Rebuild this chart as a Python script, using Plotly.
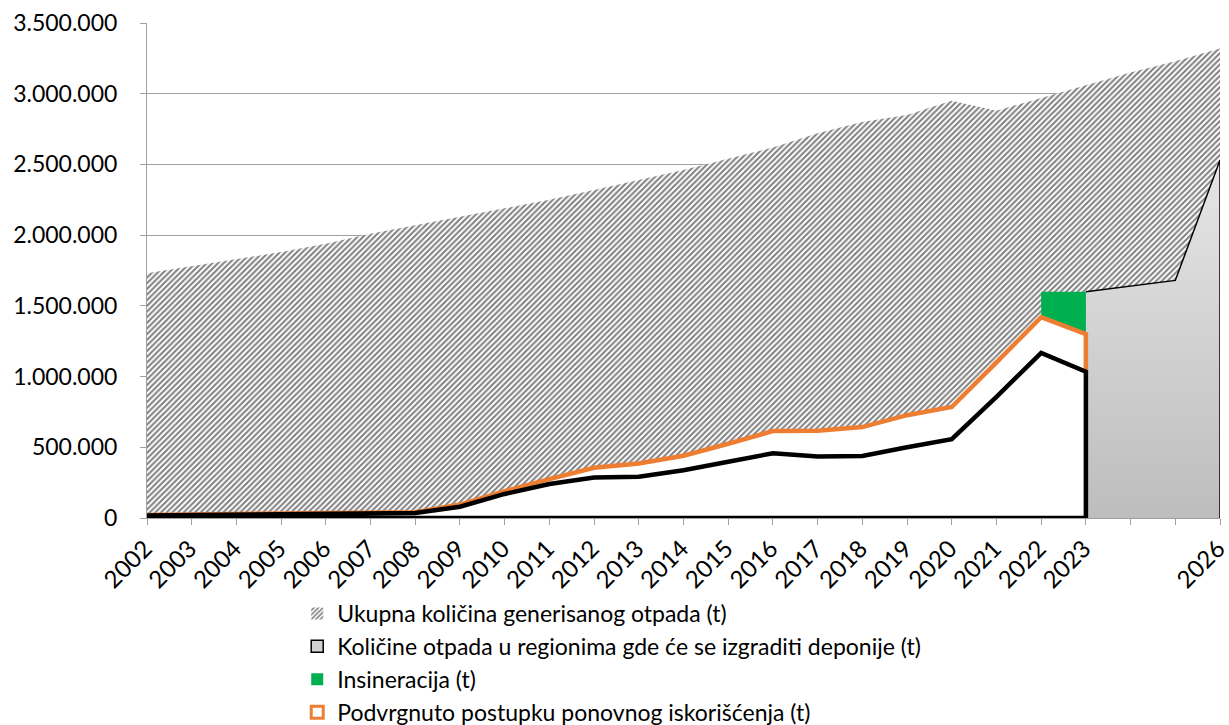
import plotly.graph_objects as go

# ---------------- data ----------------
years = list(range(2002, 2027))
ukupna = [1730000, 1780000, 1830000, 1880000, 1940000, 2010000, 2070000, 2130000,
          2190000, 2250000, 2320000, 2390000, 2460000, 2540000, 2620000, 2720000,
          2800000, 2850000, 2950000, 2880000, 2970000, 3060000, 3150000, 3230000,
          3320000]

region_years = [2023, 2024, 2025, 2026]
region_vals = [1600000, 1640000, 1680000, 2530000]

insin_years = [2022, 2023]
insin_vals = [1600000, 1600000]

hist_years = list(range(2002, 2024))
ponovno = [22000, 24000, 26000, 28000, 30000, 35000, 40000, 95000, 190000, 275000,
           355000, 385000, 440000, 525000, 615000, 617000, 643000, 727000, 785000,
           1100000, 1420000, 1300000]
serija5 = [18000, 20000, 22000, 24000, 26000, 32000, 36000, 80000, 170000, 240000,
           286000, 292000, 338000, 398000, 458000, 435000, 438000, 500000, 557000,
           856000, 1168000, 1035000]

x_tick_labels = [str(y) if y not in (2024, 2025) else "" for y in years]
y_ticks = [0, 500000, 1000000, 1500000, 2000000, 2500000, 3000000, 3500000]

names = ["Ukupna količina generisanog otpada (t)",
         "Količine otpada u regionima gde će se izgraditi deponije (t)",
         "Insineracija (t)",
         "Podvrgnuto postupku ponovnog iskorišćenja (t)"]

FONT = "Lato"
fig = go.Figure()

# total generated waste (hatched)
fig.add_trace(go.Scatter(
    x=years, y=ukupna, mode="lines", line=dict(width=0, color="rgba(0,0,0,0)"),
    fill="tozeroy", fillcolor="white",
    fillpattern=dict(shape="/", fgcolor="black", bgcolor="white", size=4, solidity=0.5),
    showlegend=False, name=names[0]))

# regions with landfills (gradient gray)
fig.add_trace(go.Scatter(
    x=region_years + [region_years[-1]], y=region_vals + [0], mode="lines",
    line=dict(color="black", width=1.5),
    fill="tozeroy",
    fillgradient=dict(type="vertical",
                      colorscale=[[0, "#bdbdbd"], [1, "#e6e6e6"]],
                      start=0, stop=region_vals[-1]),
    showlegend=False, name=names[1]))

# incineration (green)
fig.add_trace(go.Scatter(
    x=insin_years, y=insin_vals, mode="lines", line=dict(width=0, color="#00b050"),
    fill="tozeroy", fillcolor="#00b050", showlegend=False, name=names[2]))

# recovered (orange outline, white fill)
fig.add_trace(go.Scatter(
    x=hist_years + [hist_years[-1], hist_years[0]], y=ponovno + [0, 0], mode="lines",
    line=dict(color="#ed7d31", width=4.5), fill="toself", fillcolor="white",
    showlegend=False, name=names[3]))

# fifth series (black outline, white fill)
fig.add_trace(go.Scatter(
    x=hist_years + [hist_years[-1], hist_years[0]], y=serija5 + [0, 0], mode="lines",
    line=dict(color="black", width=4.5), fill="toself", fillcolor="white",
    showlegend=False, name="Serija 5"))

# legend entries (square swatches)
fig.add_trace(go.Bar(x=[None], y=[None], name=names[0],
                     marker=dict(color="white", line=dict(width=0),
                                 pattern=dict(shape="/", fgcolor="black", bgcolor="white",
                                              size=4, solidity=0.5))))
fig.add_trace(go.Bar(x=[None], y=[None], name=names[1],
                     marker=dict(color="#d2d2d2", line=dict(color="black", width=1.5))))
fig.add_trace(go.Bar(x=[None], y=[None], name=names[2],
                     marker=dict(color="#00b050", line=dict(width=0))))
fig.add_trace(go.Bar(x=[None], y=[None], name=names[3],
                     marker=dict(color="white", line=dict(color="#ed7d31", width=3))))

fig.update_layout(
    width=1229, height=725,
    margin=dict(l=147, r=9, t=23, b=207, autoexpand=False),
    plot_bgcolor="white", paper_bgcolor="white",
    separators=",.",
    font=dict(family=FONT, color="black", size=22),
    showlegend=True,
    legend=dict(x=0.14, xanchor="left", y=-0.1495, yanchor="top",
                orientation="v", font=dict(family=FONT, size=23, color="black"),
                bgcolor="rgba(0,0,0,0)", tracegroupgap=0, itemwidth=30,
                traceorder="normal"),
)

fig.update_xaxes(
    type="linear", range=[2002, 2026], tickmode="array", tickvals=years,
    ticktext=x_tick_labels, tickangle=-45, ticks="outside", ticklen=6,
    tickcolor="#a0a0a0", showline=True, linecolor="#a0a0a0", linewidth=1,
    showgrid=False, zeroline=False, automargin=False, ticklabeloverflow="allow",
    ticklabelshift=-2,
    tickfont=dict(family=FONT, size=24, color="black"))

fig.update_yaxes(
    range=[0, 3500000], tickmode="array", tickvals=y_ticks, tickformat=",d",
    ticks="outside", ticklen=6, tickcolor="#a0a0a0", showline=True,
    linecolor="#a0a0a0", linewidth=1, showgrid=True, gridcolor="#a0a0a0",
    gridwidth=1, zeroline=False, ticklabelstandoff=18, automargin=False,
    tickfont=dict(family=FONT, size=23, color="black"))

fig.write_html("out.html", config={"displayModeBar": False},
               post_script="document.body.style.margin='0';")
